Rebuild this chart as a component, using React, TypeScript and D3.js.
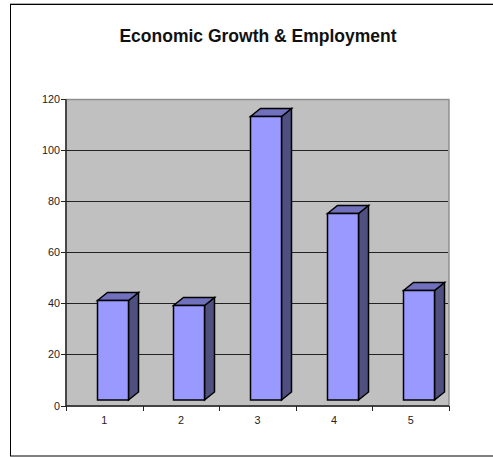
import React from "react";
import * as d3 from "d3";

const categories = ["1", "2", "3", "4", "5"];
const values = [41.5, 39.5, 113.5, 75.5, 45.5];
const yTicks = [0, 20, 40, 60, 80, 100, 120];

const W = 493, H = 457;
const plot = { l: 66, r: 449, t: 99.5, b: 406 };
const dx = 10, dy = 8, barW = 31, floorLift = 6, barShift = 8;

export default function App() {
  const x = d3.scaleBand<string>().domain(categories).range([plot.l, plot.r]);
  const y = d3.scaleLinear().domain([0, 120]).range([plot.b, plot.t]);
  const font = "'Liberation Sans', Arial, sans-serif";
  const line = d3.line();
  const snap = (v: number) => Math.floor(v) + 0.5;
  return (
    <svg width={W} height={H} style={{ position: "absolute", left: 0, top: 0, display: "block", background: "#fff" }}>
      <line x1={10} x2={W} y1={3.5} y2={3.5} stroke="#b0b0b0" />
      <rect x={10.5} y={4.5} width={500} height={451.5} fill="#fff" stroke="#000" strokeWidth={1} />
      <text x={258} y={42} textAnchor="middle" fontFamily={font} fontWeight="bold" fontSize={17.5} fill="#111">Economic Growth &amp; Employment</text>
      <rect x={plot.l} y={plot.t} width={plot.r - plot.l} height={plot.b - plot.t} fill="#c0c0c0" stroke="#8c8c8c" strokeWidth={1.4} />
      {yTicks.slice(1, -1).map(t => (
        <line key={t} x1={plot.l} x2={plot.r - 1} y1={snap(y(t))} y2={snap(y(t))} stroke="#222" strokeWidth={1} />
      ))}
      <line x1={plot.l} x2={plot.l} y1={plot.t} y2={plot.b} stroke="#222" strokeWidth={1.4} />
      <line x1={plot.l} x2={plot.r} y1={plot.b} y2={plot.b} stroke="#222" strokeWidth={1.4} />
      {yTicks.map(t => (
        <g key={t}>
          <line x1={plot.l - 5} x2={plot.l} y1={snap(y(t))} y2={snap(y(t))} stroke="#222" />
          <text x={60} y={y(t) + 3.5} textAnchor="end" fontFamily={font} fontSize={10.8} fill="#222">{t}</text>
        </g>
      ))}
      {d3.range(categories.length + 1).map(i => {
        const px = Math.round(plot.l + i * x.step()) + 0.5;
        return <line key={i} x1={px} x2={px} y1={plot.b} y2={plot.b + 5} stroke="#222" />;
      })}
      {categories.map(c => (
        <text key={c} x={x(c)! + x.bandwidth() / 2} y={424} textAnchor="middle" fontFamily={font} fontSize={10.8} fill="#222">{c}</text>
      ))}
      {categories.map((c, i) => {
        const x0 = Math.round(x(c)! + (x.bandwidth() - barW) / 2 + barShift) + 0.5;
        const x1 = x0 + barW;
        const top = Math.round(y(values[i])) + 0.5;
        const base = plot.b - floorLift;
        const frontPts: [number, number][] = [[x0, top], [x1, top], [x1, base], [x0, base]];
        const topPts: [number, number][] = [[x0, top], [x0 + dx, top - dy], [x1 + dx, top - dy], [x1, top]];
        const sidePts: [number, number][] = [[x1, top], [x1 + dx, top - dy], [x1 + dx, base - dy], [x1, base]];
        return (
          <g key={c} stroke="#000" strokeWidth={1.5} strokeLinejoin="miter">
            <path d={line(sidePts)! + "Z"} fill="#4f4f80" />
            <path d={line(topPts)! + "Z"} fill="#7070bd" />
            <path d={line(frontPts)! + "Z"} fill="#9999ff" />
          </g>
        );
      })}
    </svg>
  );
}
